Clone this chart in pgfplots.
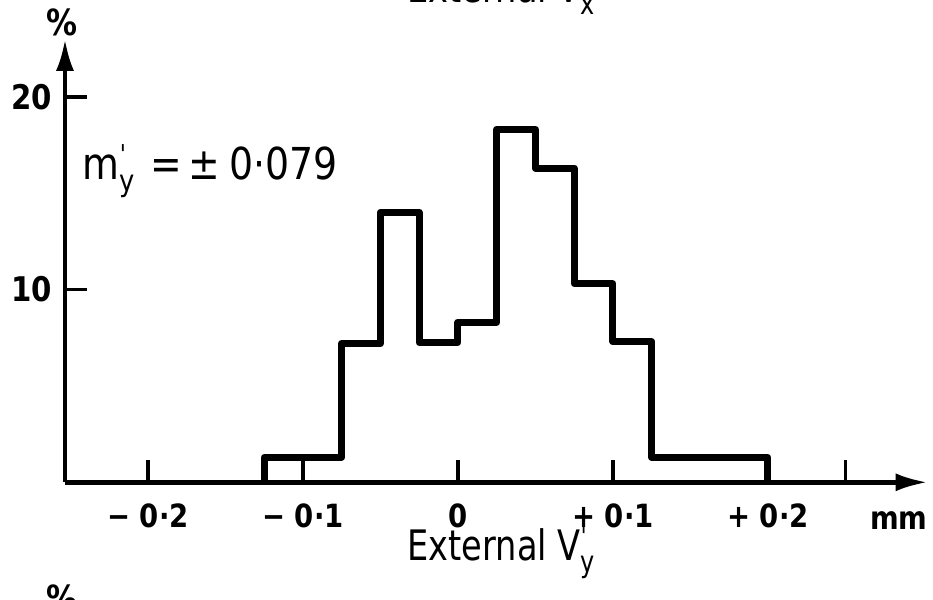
\documentclass[border=0pt]{standalone}
\usepackage{fontspec}
\setmainfont{DejaVu Sans}
\newfontfamily\labelfont[FakeStretch=0.86]{DejaVu Sans}
\newfontfamily\titlefont[FakeStretch=0.8]{DejaVu Sans}
\usepackage{pgfplots}
\pgfplotsset{compat=1.18}
\usetikzlibrary{arrows.meta}

% prime above, subscript below (as in V'_y)
\newcommand\subprime[1]{\rlap{\raisebox{0.36em}{\fontsize{13}{13}\selectfont\textquotesingle}}\raisebox{-0.28em}{\fontsize{15}{15}\selectfont #1}}

\begin{document}
\begin{tikzpicture}
\useasboundingbox (-32.5pt,-58.85pt) rectangle (434pt,241.15pt);
\clip (-32.5pt,-58.85pt) rectangle (434pt,241.15pt);
\begin{axis}[
  scale only axis, width=431.3pt, height=221.7pt,
  xmin=-0.2535, xmax=0.303, ymin=0, ymax=23,
  axis lines=left,
  axis line style={line width=2.2pt, -{Latex[length=16pt,width=9pt]}},
  tick align=inside,
  major tick length=11pt,
  every tick/.style={black, line width=1.8pt},
  xtick={-0.2,-0.1,0,0.1,0.2,0.25},
  xticklabels={{− 0·2},{− 0·1},{0},{+ 0·1},{+ 0·2},{}},
  ytick={10,20}, yticklabels={10,20},
  xticklabel style={font=\labelfont\fontsize{16}{18}\selectfont\bfseries, yshift=-7pt},
  yticklabel style={font=\labelfont\fontsize{17}{18}\selectfont\bfseries, xshift=-3pt},
  clip=false,
]
% percentage per bin of width 0.025 mm
\addplot[const plot, black, line width=3.5pt, line join=round] coordinates {
  (-0.125,0) (-0.125,1.3) (-0.075,7.2) (-0.05,14.0) (-0.025,7.25)
  (0,8.3) (0.025,18.3) (0.05,16.3) (0.075,10.3) (0.1,7.3)
  (0.125,1.3) (0.2,0)
};
\node[anchor=base west, font=\labelfont\fontsize{22}{24}\selectfont] at (axis cs:-0.2465,15.7)
  {m\subprime{y}\hspace{0.35em}=\hspace{0.15em}±\hspace{0.2em}0·079};
\node[anchor=base, font=\labelfont\fontsize{16}{18}\selectfont\bfseries] at (axis cs:0.2845,-2.47) {mm};
\node[anchor=base, font=\titlefont\fontsize{21}{24}\selectfont] at (axis cs:0.028,-4.08) {External V\subprime{y}};
\node[anchor=base, font=\titlefont\fontsize{21}{24}\selectfont] at (axis cs:0.028,24.9) {External V\subprime{x}};
\node[font=\labelfont\fontsize{18}{18}\selectfont\bfseries] at (axis cs:-0.2555,23.87) {\%};
\node[font=\labelfont\fontsize{18}{18}\selectfont\bfseries] at (axis cs:-0.2555,-6.0) {\%};
\end{axis}
\end{tikzpicture}
\end{document}
